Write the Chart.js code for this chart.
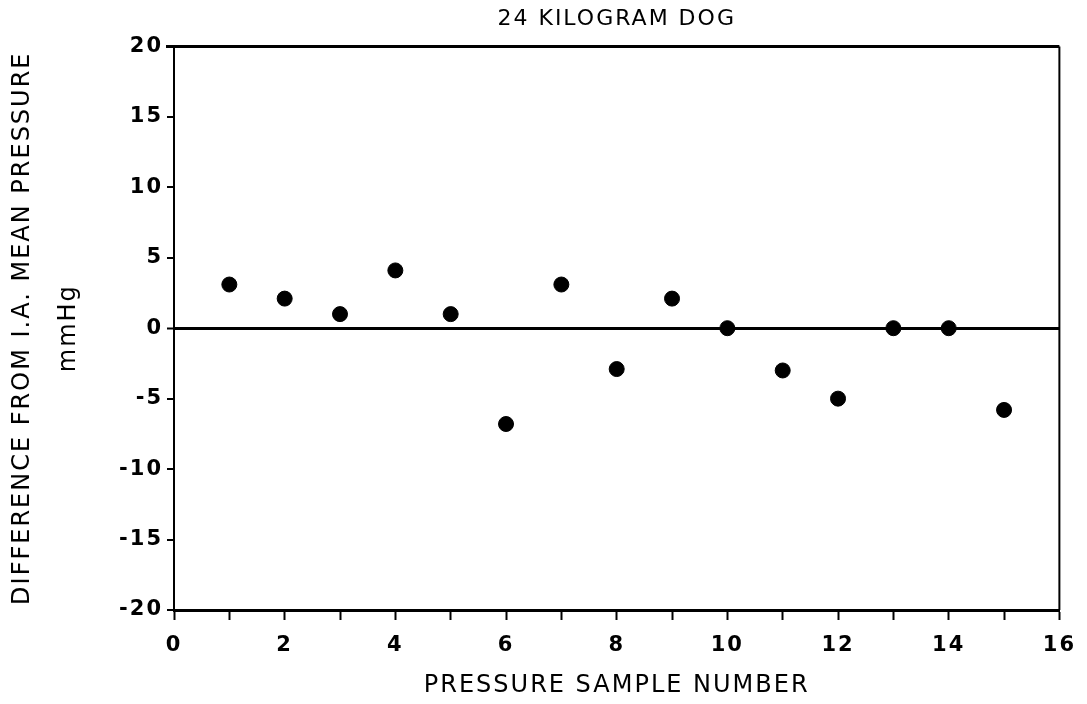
<!DOCTYPE html>
<html>
<head>
<meta charset="utf-8">
<script src="https://cdn.jsdelivr.net/npm/chart.js@4.4.1/dist/chart.umd.min.js"></script>
<style>
  html, body { margin: 0; padding: 0; background: #fff; }
  #wrap { width: 1087px; height: 704px; }
</style>
</head>
<body>
<div id="wrap"><canvas id="c"></canvas></div>
<script>
// values (difference in mmHg per sample)
const sampleNumbers = [1, 2, 3, 4, 5, 6, 7, 8, 9, 10, 11, 12, 13, 14, 15];
const pressureDiffs = [3.1, 2.1, 1.0, 4.1, 1.0, -6.8, 3.1, -2.9, 2.1, 0, -3.0, -5.0, 0, 0, -5.8];
const xTickLabels = ['0', '2', '4', '6', '8', '10', '12', '14', '16'];
const yTickLabels = ['-20', '-15', '-10', '-5', '0', '5', '10', '15', '20'];

const FONT = "'DejaVu Sans', sans-serif";

// spacing out the letters, the plotter font is wide
const spacing = {
  id: 'spacing',
  beforeDraw(chart) { chart.ctx.letterSpacing = '2px'; }
};

// top and right edges of the frame
const frame = {
  id: 'frame',
  afterDraw(chart) {
    const {ctx, chartArea: a} = chart;
    ctx.save();
    ctx.strokeStyle = '#000';
    ctx.lineWidth = 3;
    ctx.beginPath();
    ctx.moveTo(a.left - 8, a.top);
    ctx.lineTo(a.right, a.top);
    ctx.stroke();
    ctx.lineWidth = 2;
    ctx.beginPath();
    ctx.moveTo(a.right, a.top);
    ctx.lineTo(a.right, a.bottom);
    ctx.stroke();
    ctx.restore();
  }
};

new Chart(document.getElementById('c'), {
  type: 'scatter',
  data: {
    datasets: [{
      label: 'Difference',
      data: sampleNumbers.map((n, i) => ({x: n, y: pressureDiffs[i]})),
      backgroundColor: '#000',
      borderColor: '#000',
      pointRadius: 7.5,
      pointHoverRadius: 7.5
    }]
  },
  options: {
    responsive: true,
    maintainAspectRatio: false,
    animation: false,
    layout: {padding: {left: 0, right: 22, top: 0, bottom: 0}},
    plugins: {
      legend: {display: false},
      tooltip: {enabled: false},
      title: {
        display: true,
        fullSize: false,
        text: '24 KILOGRAM DOG',
        color: '#000',
        font: {family: FONT, size: 22, weight: 'normal', lineHeight: 1.2},
        padding: {top: 6, bottom: 14}
      }
    },
    scales: {
      x: {
        type: 'linear',
        min: 0,
        max: 16,
        afterFit(s) { s.height = 94; },
        ticks: {
          stepSize: 1,
          autoSkip: false,
          maxRotation: 0,
          padding: 13,
          color: '#000',
          font: {family: FONT, size: 21, weight: 'bold'},
          callback: v => xTickLabels.includes(String(v)) ? String(v) : ''
        },
        grid: {
          drawOnChartArea: false,
          drawTicks: true,
          tickLength: 10,
          tickColor: '#000',
          tickWidth: 2
        },
        border: {display: true, color: '#000', width: 3},
        title: {
          display: true,
          text: 'PRESSURE SAMPLE NUMBER',
          color: '#000',
          font: {family: FONT, size: 24, weight: 'normal', lineHeight: 1.2},
          padding: {top: 0, bottom: 4}
        }
      },
      y: {
        min: -20,
        max: 20,
        afterFit(s) { s.width = 174; },
        ticks: {
          stepSize: 5,
          padding: 4,
          color: '#000',
          font: {family: FONT, size: 21, weight: 'bold'},
          callback: v => yTickLabels.includes(String(v)) ? String(v) : ''
        },
        grid: {
          drawOnChartArea: true,
          drawTicks: true,
          tickLength: 7,
          tickColor: '#000',
          tickWidth: 2,
          color: c => c.tick && c.tick.value === 0 ? '#000' : 'rgba(0,0,0,0)',
          lineWidth: c => c.tick && c.tick.value === 0 ? 3 : 0
        },
        border: {display: true, color: '#000', width: 2},
        title: {
          display: true,
          text: ['DIFFERENCE FROM I.A. MEAN PRESSURE', 'mmHg'],
          color: '#000',
          font: {family: FONT, size: 24, weight: 'normal', lineHeight: 1.9},
          padding: {top: 0, bottom: 0}
        }
      }
    }
  },
  plugins: [spacing, frame]
});
</script>
</body>
</html>
